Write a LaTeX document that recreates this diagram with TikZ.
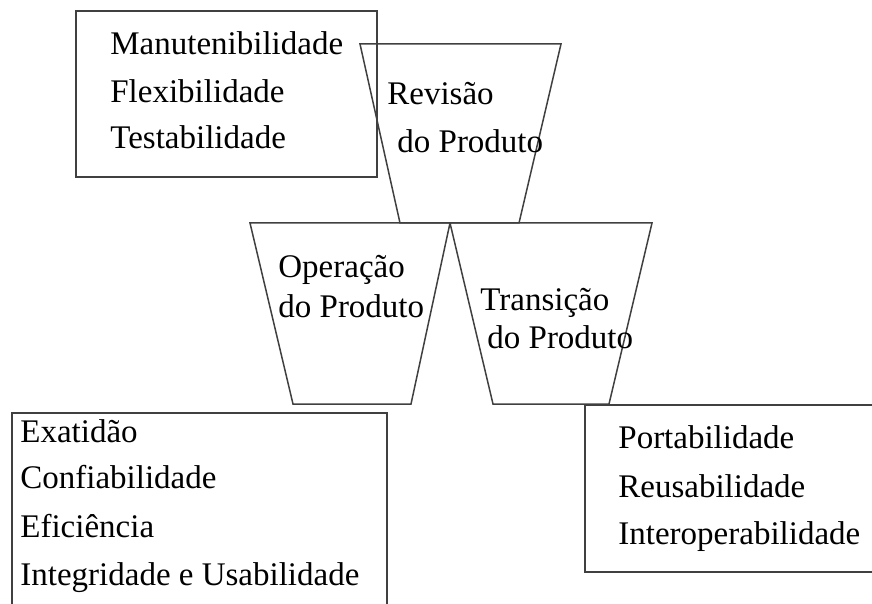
\documentclass[tikz,border=0pt]{standalone}
\usepackage{fontspec}
\setmainfont{Liberation Serif}
\usepackage{tikz}
\usetikzlibrary{positioning}

\tikzset{
  frame/.style={draw=black!75, line width=0.75pt},
  label/.style={anchor=base west, inner sep=0pt, font=\fontsize{16.5}{20}\selectfont}
}

\begin{document}
\begin{tikzpicture}[x=0.5pt, y=-0.5pt]

  % Canvas
  \useasboundingbox (0,0) rectangle (872,604);
  \clip (0,0) rectangle (872,604);

  % Corners of the three funnels
  \coordinate (rTL) at (360,44);  \coordinate (rTR) at (561,44);
  \coordinate (rBR) at (519,223); \coordinate (rBL) at (400,223);
  \coordinate (oTL) at (250,223); \coordinate (mid) at (450,223);
  \coordinate (oBR) at (411,404); \coordinate (oBL) at (293,404);
  \coordinate (tTR) at (652,223);
  \coordinate (tBR) at (609,404); \coordinate (tBL) at (493,404);

  % Boxes
  \draw[frame] (76,11) rectangle (377,177);          % revision box
  \draw[frame] (12,610) -- (12,413) -- (387,413) -- (387,610); % operation box
  \draw[frame] (880,405) -- (585,405) -- (585,572) -- (880,572); % transition box

  % Funnels
  \draw[frame] (rTL) -- (rTR) -- (rBR) -- (rBL) -- cycle;  % Revisao
  \draw[frame] (oTL) -- (mid) -- (oBR) -- (oBL) -- cycle;  % Operacao
  \draw[frame] (mid) -- (tTR) -- (tBR) -- (tBL) -- cycle;  % Transicao

  % Revision factors
  \node[label] (man)  at (110,55)  {Manutenibilidade};
  \node[label] (flex) at (110,103) {Flexibilidade};
  \node[label] (test) at (110,149) {Testabilidade};

  % Funnel labels
  \node[label] (rev1) at (387,105) {Revisão};
  \node[label] (rev2) at (397,153) {do Produto};
  \node[label] (op1)  at (278,278) {Operação};
  \node[label] (op2)  at (278,317) {do Produto};
  \node[label] (tr1)  at (480,310) {Transição};
  \node[label] (tr2)  at (487,348) {do Produto};

  % Operation factors
  \node[label] (exa)  at (20,442) {Exatidão};
  \node[label] (conf) at (20,488) {Confiabilidade};
  \node[label] (efi)  at (20,537) {Eficiência};
  \node[label] (intg) at (20,585) {Integridade e Usabilidade};

  % Transition factors
  \node[label] (port) at (618,448) {Portabilidade};
  \node[label] (reus) at (618,497) {Reusabilidade};
  \node[label] (inop) at (618,544) {Interoperabilidade};

\end{tikzpicture}
\end{document}
